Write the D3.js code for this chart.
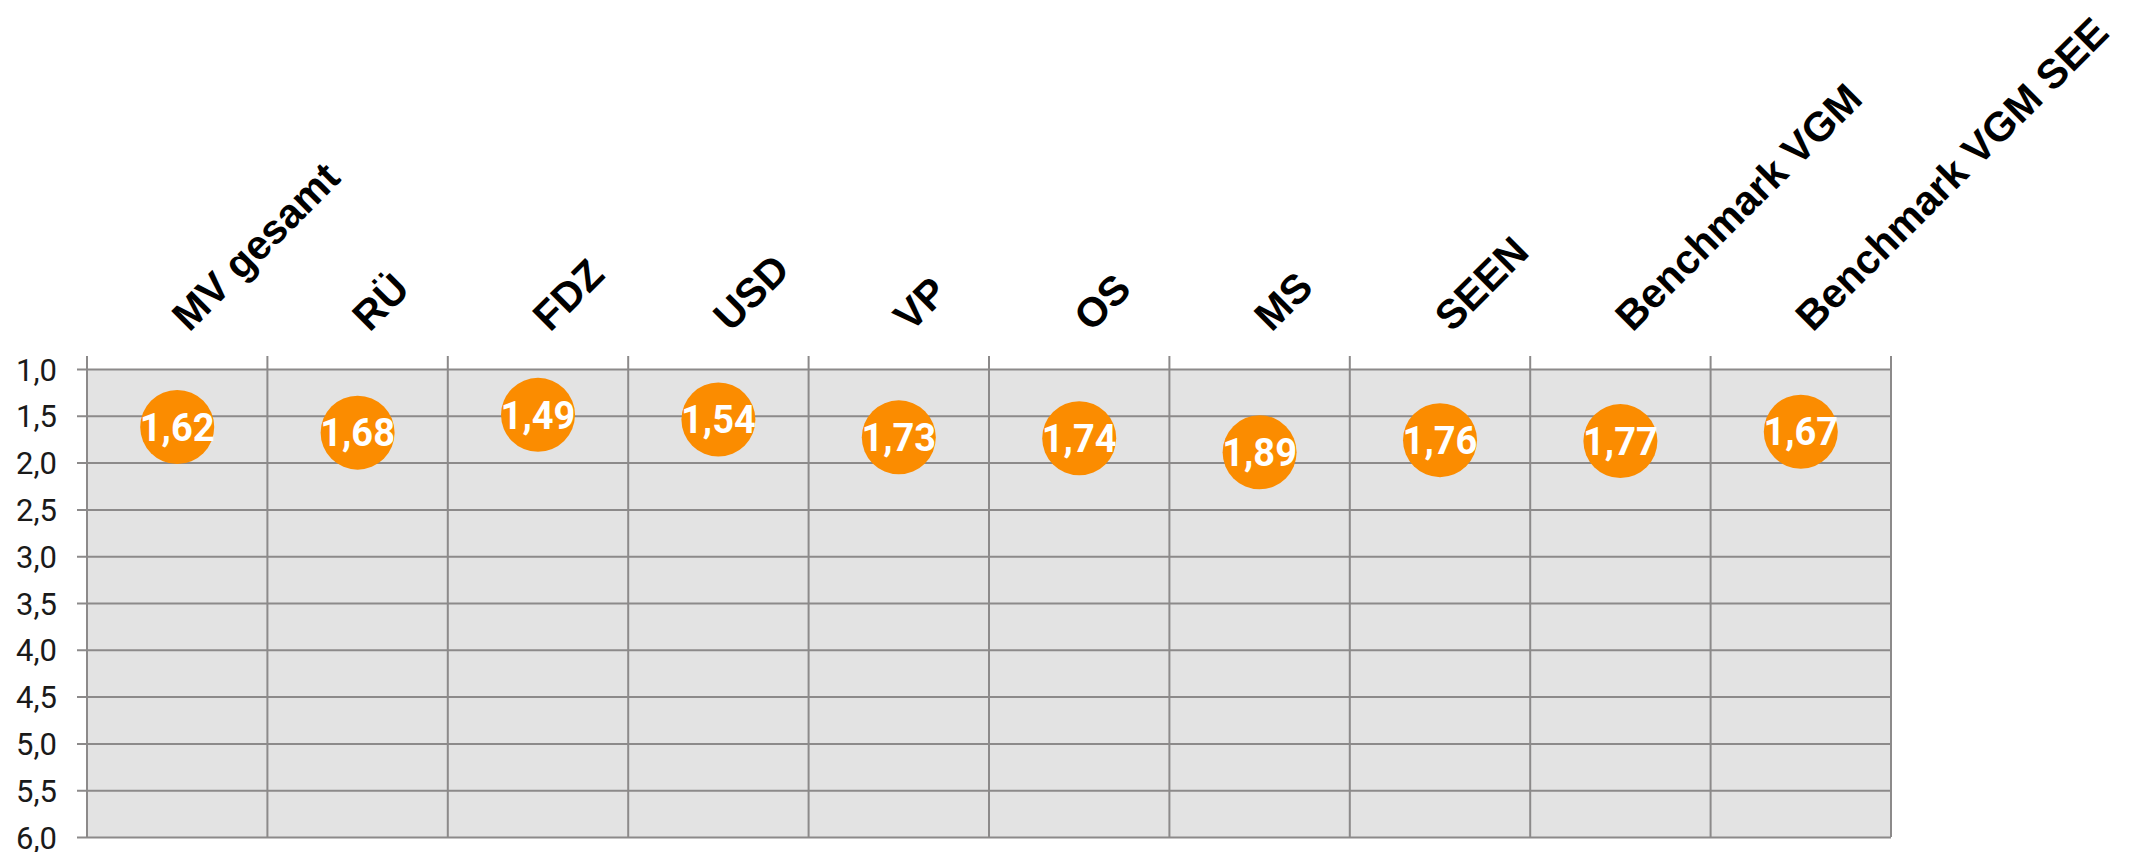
<!DOCTYPE html>
<html>
<head>
<meta charset="utf-8">
<script src="https://cdn.jsdelivr.net/npm/d3@7"></script>
<style>
  body { margin: 0; background: #fff; }
  svg { display: block; }
</style>
</head>
<body>
<div id="chart"></div>
<script>
let categories = ['MV gesamt', 'RÜ', 'FDZ', 'USD', 'VP', 'OS', 'MS', 'SEEN', 'Benchmark VGM', 'Benchmark VGM SEE']
let values = [1.62, 1.68, 1.49, 1.54, 1.73, 1.74, 1.89, 1.76, 1.77, 1.67]
let yTicks = [1.0, 1.5, 2.0, 2.5, 3.0, 3.5, 4.0, 4.5, 5.0, 5.5, 6.0]

var width = 2144
var height = 852
var plotLeft = 87
var plotRight = 1891
var plotTop = 369
var plotBottom = 837

var svg = d3.select('#chart')
  .append('svg')
  .attr('width', width)
  .attr('height', height)

var x = d3.scaleBand()
  .domain(categories)
  .range([plotLeft, plotRight])
  .paddingInner(0)
  .paddingOuter(0)

var y = d3.scaleLinear()
  .domain([1, 6])
  .range([plotTop, plotBottom])

var fmt = function (d) { return d.toFixed(1).replace('.', ',') }

// plot background
svg.append('rect')
  .attr('x', plotLeft)
  .attr('y', plotTop)
  .attr('width', plotRight - plotLeft)
  .attr('height', plotBottom - plotTop)
  .attr('fill', '#e3e3e3')

// horizontal gridlines + tick labels
var yAxis = svg.append('g')
  .attr('transform', 'translate(' + (plotLeft - 10) + ',0)')
  .call(d3.axisLeft(y)
    .tickValues(yTicks)
    .tickSize(-(plotRight - plotLeft + 10))
    .tickPadding(20)
    .tickFormat(fmt))
yAxis.select('.domain').remove()
yAxis.selectAll('line')
  .attr('stroke', '#8c8a8a')
  .attr('stroke-width', 2)
yAxis.selectAll('text')
  .attr('font-family', 'Roboto, sans-serif')
  .attr('font-size', 31)
  .attr('fill', '#1a1a1a')
  .attr('dy', '0.36em')

// vertical category separators
var bounds = categories.map(function (c) { return x(c) }).concat([plotRight])
svg.selectAll('line.vsep')
  .data(bounds)
  .enter()
  .append('line')
  .attr('class', 'vsep')
  .attr('x1', function (d) { return d })
  .attr('x2', function (d) { return d })
  .attr('y1', plotTop - 13)
  .attr('y2', plotBottom)
  .attr('stroke', '#8c8a8a')
  .attr('stroke-width', 2)

// rotated category labels
svg.selectAll('text.cat')
  .data(categories)
  .enter()
  .append('text')
  .attr('class', 'cat')
  .attr('transform', function (d) {
    return 'translate(' + (x(d) + x.bandwidth() / 2 + 12) + ',333) rotate(-45)'
  })
  .attr('text-anchor', 'start')
  .attr('font-family', '"Liberation Sans", Arial, sans-serif')
  .attr('font-weight', 'bold')
  .attr('font-size', 41)
  .attr('fill', '#000')
  .text(function (d) { return d })

// points
var pts = categories.map(function (c, i) { return {cat: c, val: values[i]} })

svg.selectAll('circle.pt')
  .data(pts)
  .enter()
  .append('circle')
  .attr('class', 'pt')
  .attr('cx', function (d) { return x(d.cat) + x.bandwidth() / 2 })
  .attr('cy', function (d) { return y(d.val) })
  .attr('r', 37)
  .attr('fill', '#fb8c00')

svg.selectAll('text.val')
  .data(pts)
  .enter()
  .append('text')
  .attr('class', 'val')
  .attr('x', function (d) { return x(d.cat) + x.bandwidth() / 2 })
  .attr('y', function (d) { return y(d.val) })
  .attr('dy', '0.36em')
  .attr('text-anchor', 'middle')
  .attr('font-family', 'Roboto, sans-serif')
  .attr('font-weight', 'bold')
  .attr('font-size', 38)
  .attr('fill', '#fff')
  .text(function (d) { return d.val.toFixed(2).replace('.', ',') })
</script>
</body>
</html>
